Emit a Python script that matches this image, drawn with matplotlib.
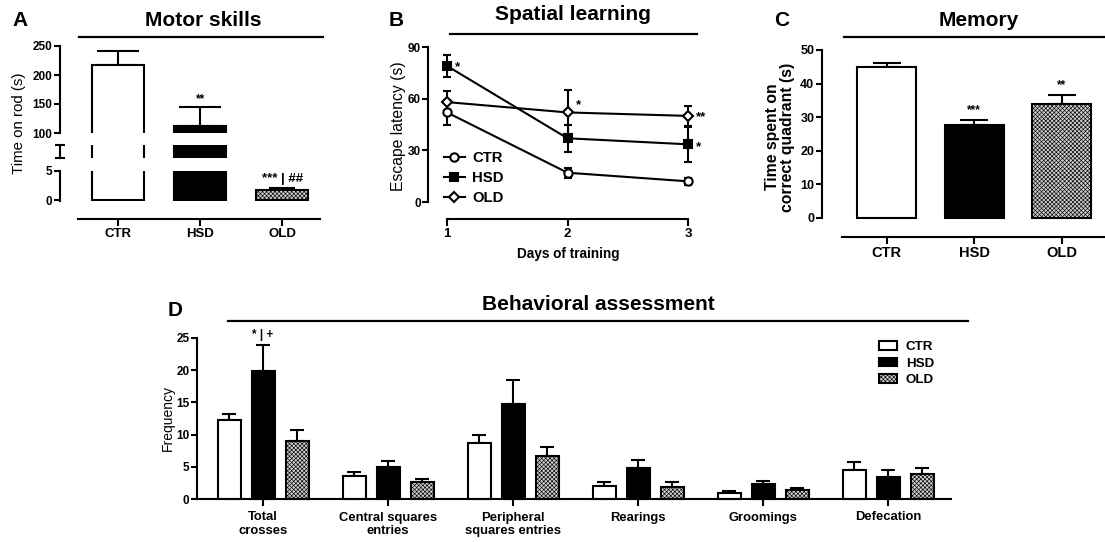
import numpy as np
import matplotlib
matplotlib.use('Agg')
import matplotlib.pyplot as plt
from matplotlib.lines import Line2D
from matplotlib.patches import Patch

plt.rcParams['font.family'] = ['Liberation Sans', 'DejaVu Sans']
plt.rcParams['hatch.linewidth'] = 0.45

W, H = 1105, 542

groups = ['CTR', 'HSD', 'OLD']
face = ['white', 'black', '#cfcfcf']
hatch = [None, None, 'xxxxxxxx']

# A - motor skills (time on rod)
rod_mean = [217, 112, 1.8]
rod_sem = [25, 33, 0.3]

# B - spatial learning (escape latency)
days = [1, 2, 3]
lat_ctr = [52, 17, 12]
lat_ctr_sem = [7, 3, 2]
lat_hsd = [79, 37, 33.5]
lat_hsd_sem = [6.5, 8, 10]
lat_old = [58, 52, 50]
lat_old_sem = [6.5, 13, 6]

# C - memory
quad_mean = [44.8, 27.8, 33.8]
quad_sem = [1.4, 1.3, 2.8]

# D - behavioral assessment
beh_labels = ['Total\ncrosses', 'Central squares\nentries', 'Peripheral\nsquares entries',
              'Rearings', 'Groomings', 'Defecation']
beh_ctr = [12.3, 3.6, 8.7, 2.0, 1.0, 4.5]
beh_ctr_sem = [0.9, 0.6, 1.2, 0.6, 0.3, 1.2]
beh_hsd = [19.9, 5.0, 14.8, 4.75, 2.3, 3.35]
beh_hsd_sem = [4.0, 0.95, 3.7, 1.3, 0.5, 1.15]
beh_old = [9.0, 2.6, 6.6, 1.9, 1.4, 3.9]
beh_old_sem = [1.7, 0.5, 1.5, 0.7, 0.35, 0.85]

fig = plt.figure(figsize=(W / 100, H / 100), dpi=100)

TITLE = dict(fontsize=15, fontweight='bold')
YTICK = 8.5


def px_axes(x0, y0, x1, y1):
    return fig.add_axes([x0 / W, 1 - y1 / H, (x1 - x0) / W, (y1 - y0) / H])


def px_line(x0, x1, y):
    fig.add_artist(Line2D([x0 / W, x1 / W], [1 - y / H, 1 - y / H],
                          transform=fig.transFigure, color='black', lw=1.6))


def px_text(x, y, s, **kw):
    fig.text(x / W, 1 - y / H, s, ha='center', va='center', **kw)


def style(ax, left_out=0, bottom_out=0):
    ax.spines['top'].set_visible(False)
    ax.spines['right'].set_visible(False)
    ax.spines['left'].set_position(('outward', left_out))
    ax.spines['bottom'].set_position(('outward', bottom_out))
    for s in ['left', 'bottom']:
        ax.spines[s].set_linewidth(1.5)
    ax.tick_params(width=1.5, length=4, pad=1.5)
    ax.patch.set_visible(False)


def bold_yticks(ax, size=YTICK):
    for lab in ax.get_yticklabels():
        lab.set_fontsize(size)
        lab.set_fontweight('bold')


def bars(ax, x, vals, sems, width, colors, hatches, capsize, clip=True):
    bs = ax.bar(x, vals, width=width, color=colors, edgecolor='black',
                linewidth=1.5, zorder=2, clip_on=clip)
    for b, h in zip(bs, hatches):
        if h:
            b.set_hatch(h)
    ax.errorbar(x, vals, yerr=[np.zeros(len(vals)), sems], fmt='none', ecolor='black',
                elinewidth=1.5, capsize=capsize, capthick=1.5, zorder=1, clip_on=clip)


# ---------------- A ----------------
x3 = np.arange(3)
a_top = px_axes(78, 46, 320, 133)
a_mid = px_axes(78, 145, 320, 158)
a_bot = px_axes(78, 171, 320, 201)
for ax, lim in [(a_top, (100, 250)), (a_mid, (30, 100)), (a_bot, (-0.15, 5))]:
    style(ax, left_out=13, bottom_out=13)
    bars(ax, x3, rod_mean, rod_sem, 0.63, face, hatch, 15 if ax is not a_bot else 9.5)
    ax.set_xlim(-0.49, 2.46)
    ax.set_ylim(*lim)
for ax in [a_top, a_mid]:
    ax.spines['bottom'].set_visible(False)
    ax.set_xticks([])
a_top.set_yticks([100, 150, 200, 250])
a_mid.set_yticks(a_mid.get_ylim())
a_mid.set_yticklabels([])
a_mid.tick_params(axis='y', direction='inout', length=7)
a_bot.set_yticks([0, 5])
bold_yticks(a_top)
bold_yticks(a_bot)
a_bot.set_xticks(x3)
a_bot.set_xticklabels(groups, fontsize=9.5, fontweight='bold')
a_bot.tick_params(axis='x', length=5, pad=1.5)
a_top.annotate('**', (1, rod_mean[1] + rod_sem[1]), xytext=(0, 1), textcoords='offset points',
               ha='center', va='bottom', fontsize=8.5, fontweight='bold')
a_bot.annotate('*** | ##', (2, rod_mean[2] + rod_sem[2]), xytext=(0, 2), textcoords='offset points',
               ha='center', va='bottom', fontsize=9.5, fontweight='bold')
fig.text(19 / W, 1 - 123 / H, 'Time on rod (s)', rotation=90, ha='center', va='center', fontsize=10.8)
px_line(79, 323, 37)
px_text(203, 21, 'Motor skills', **TITLE)
px_text(20, 21, 'A', **TITLE)

# ---------------- B ----------------
b = px_axes(438, 47, 698, 202)
style(b, left_out=7, bottom_out=12)
series = [(lat_ctr, lat_ctr_sem, 'o', 'white', 'CTR'),
          (lat_hsd, lat_hsd_sem, 's', 'black', 'HSD'),
          (lat_old, lat_old_sem, 'D', 'white', 'OLD')]
handles = []
for vals, sems, m, mfc, lab in series:
    ms = 5 if m == 'D' else 6
    b.errorbar(days, vals, yerr=sems, marker=m, mfc=mfc, mec='black', mew=1.5, ms=ms,
               color='black', lw=1.5, elinewidth=1.5, capsize=3, capthick=1.5, clip_on=False)
    handles.append(Line2D([], [], marker=m, mfc=mfc, mec='black', mew=1.5, ms=ms,
                          color='black', lw=1.5, label=lab))
b.set_xlim(0.925, 3.083)
b.set_ylim(0, 90)
b.spines['bottom'].set_bounds(1, 3)
b.set_xticks(days)
b.set_yticks([0, 30, 60, 90])
b.tick_params(axis='x', length=5, pad=1.5)
bold_yticks(b)
for lab in b.get_xticklabels():
    lab.set_fontsize(9.5)
    lab.set_fontweight('bold')
b.legend(handles=handles, loc='upper left', bbox_to_anchor=(444 / W, 1 - 151 / H),
         bbox_transform=fig.transFigure, frameon=False, handlelength=1.4,
         handletextpad=0.5, labelspacing=0.4, borderpad=0, borderaxespad=0,
         prop=dict(size=10.7, weight='bold'))
for (i, vals, txt, off) in [(0, lat_hsd, '*', (6, -1)), (1, lat_old, '*', (6, 5)),
                            (2, lat_old, '**', (6, -1)), (2, lat_hsd, '*', (6, -2))]:
    b.annotate(txt, (days[i], vals[i]), xytext=off, textcoords='offset points',
               ha='left', va='center', fontsize=9.5, fontweight='bold')
b.set_xlabel('Days of training', fontsize=9.8, fontweight='bold', labelpad=5)
fig.text(398 / W, 1 - 126 / H, 'Escape latency (s)', rotation=90, ha='center', va='center',
         fontsize=11.3)
px_line(450, 697, 34)
px_text(573, 15, 'Spatial learning', **TITLE)
px_text(396, 21, 'B', **TITLE)

# ---------------- C ----------------
c = px_axes(842, 50, 1105, 218)
style(c, left_out=14.4, bottom_out=13.7)
bars(c, x3, quad_mean, quad_sem, 0.674, face, hatch, 10, clip=False)
c.set_xlim(-0.509, 2.497)
c.set_ylim(0, 50)
c.set_yticks(range(0, 51, 10))
c.set_xticks(x3)
c.set_xticklabels(groups, fontsize=10.5, fontweight='bold')
c.tick_params(axis='x', length=5, pad=1.5)
bold_yticks(c, 9)
for i, txt in [(1, '***'), (2, '**')]:
    c.annotate(txt, (i, quad_mean[i] + quad_sem[i]), xytext=(0, 3), textcoords='offset points',
               ha='center', va='bottom', fontsize=8.5, fontweight='bold')
fig.text(780 / W, 1 - 137 / H, 'Time spent on\ncorrect quadrant (s)', rotation=90,
         ha='center', va='center', fontsize=11.3, fontweight='bold', linespacing=1.05)
px_line(844, 1105, 37)
px_text(979, 21, 'Memory', **TITLE)
px_text(782, 21, 'C', **TITLE)

# ---------------- D ----------------
d = px_axes(197, 338, 951, 499)
style(d)
xd = np.arange(len(beh_labels))
for k, (vals, sems) in enumerate([(beh_ctr, beh_ctr_sem), (beh_hsd, beh_hsd_sem), (beh_old, beh_old_sem)]):
    bars(d, xd + (k - 1) * 0.272, vals, sems, 0.184, [face[k]] * 6, [hatch[k]] * 6, 4.7, clip=False)
d.set_xlim(-0.528, 5.504)
d.set_ylim(0, 25)
d.set_yticks(range(0, 26, 5))
d.set_xticks(xd)
d.set_xticklabels(beh_labels, fontsize=9.4, fontweight='bold', linespacing=1.2)
d.tick_params(axis='x', length=5, pad=4)
bold_yticks(d)
d.annotate('* | +', (0, beh_hsd[0] + beh_hsd_sem[0]), xytext=(0, 3), textcoords='offset points',
           ha='center', va='bottom', fontsize=8.5, fontweight='bold')
d_handles = [Patch(facecolor=face[k], edgecolor='black', linewidth=1.5, hatch=hatch[k], label=g)
             for k, g in enumerate(groups)]
d.legend(handles=d_handles, loc='upper left', bbox_to_anchor=(879 / W, 1 - 341 / H),
         bbox_transform=fig.transFigure, frameon=False, handlelength=1.35, handleheight=0.6,
         handletextpad=0.65, labelspacing=0.35, borderpad=0, borderaxespad=0,
         prop=dict(size=9.6, weight='bold'))
fig.text(168 / W, 1 - 418 / H, 'Frequency', rotation=90, ha='center', va='center', fontsize=10)
px_line(228, 968, 321)
px_text(598, 305, 'Behavioral assessment', **TITLE)
px_text(175, 310, 'D', **TITLE)

fig.savefig('out.png', dpi=100)
